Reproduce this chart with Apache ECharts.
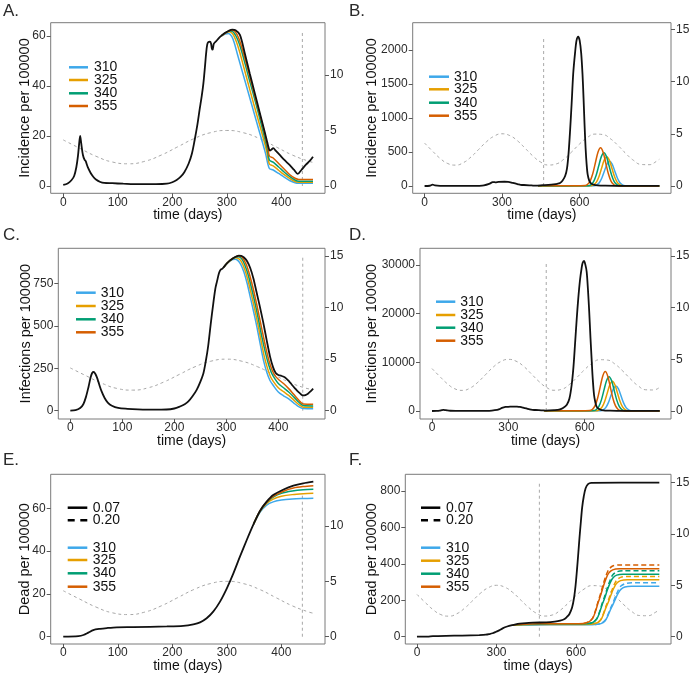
<!DOCTYPE html>
<html><head><meta charset="utf-8">
<script src="https://cdn.jsdelivr.net/npm/echarts@6/dist/echarts.min.js"></script>
<style>html,body{margin:0;padding:0;background:#fff;}#c{width:692px;height:677px;}</style>
</head><body><div id="c"></div>
<script>
// ---------- DATA ----------
const groups = ['310','325','340','355'];
const caseLabels = ['0.07','0.20'];
const shortTicks = [0,100,200,300,400];
const longTicks = [0,300,600];
const rightTicks10 = [0,5,10];
const rightTicks15 = [0,5,10,15];
const ticksA = [0,20,40,60];
const ticksB = [0,500,1000,1500,2000];
const ticksC = [0,250,500,750];
const ticksD = [0,10000,20000,30000];
const ticksE = [0,20,40,60];
const ticksF = [0,200,400,600,800];

// seasonal forcing (right axis)
const seasonDaysA = [0,30,60,90,120,150,180,210,240,270,300,330,360,390,420,450,458];
const seasonValsA = [4.15,3.40,2.68,2.16,2.00,2.23,2.79,3.53,4.27,4.80,5.00,4.80,4.27,3.53,2.79,2.23,2.13];
const seasonDaysC = [0,30,60,90,120,150,180,210,240,270,300,330,360,390,420,450,467];
const seasonValsC = [4.15,3.40,2.68,2.16,2.00,2.23,2.79,3.53,4.27,4.80,5.00,4.80,4.27,3.53,2.79,2.23,2.05];
const seasonDaysLong = [0,30,60,90,120,150,180,210,240,270,300,330,360,390,420,450,480,510,540,570,600,630,660,690,720,750,780,810,840,870,900,914];
const seasonValsLong = [4.11,3.36,2.65,2.15,2.00,2.23,2.78,3.51,4.24,4.78,5.00,4.83,4.33,3.61,2.87,2.29,2.01,2.11,2.57,3.26,4.01,4.63,4.97,4.93,4.53,3.87,3.11,2.45,2.06,2.04,2.38,2.65];

// vertical marker (A..F)
const markDay = [438.5, 461.4, 447, 449, 438.5, 461.6];
const markTop = [62.4, 2196, 915, 30800, 66, 846];

// Panel A: incidence
const aBlack = [[0,0.4],[8,1],[15,2.3],[20,4],[24,7.5],[27,12],[29,16.5],[31,20],[33,17],[36,12.5],[39,10.5],[41,10],[45,7.5],[50,5.3],[55,3.7],[60,2.6],[68,1.6],[75,1.2],[90,1.1],[110,0.9],[140,0.7],[170,0.7],[190,0.9],[200,1.5],[208,2.4],[215,3.6],[222,5.5],[230,9],[236,13],[241,18.4],[246,24.5],[250,30.4],[254,36],[257,41],[260,48],[262,53],[264,56.5],[266,57.5],[269,57.7],[271,57],[272.5,55],[274,54.5],[276,56.8],[280,57.8],[287,59.5],[295,61],[303,62],[310,62.5],[316,62.3],[324,60.4],[333,53],[342,45],[351,37.3],[360,29.6],[369,22],[377,15],[379,14.1],[382,14.6],[385,15.1],[390,14],[397,12.4],[405,10.5],[415,8.4],[423,6.5],[430,4.8],[437,6.5],[445,8.5],[452,10],[458,11.7]];
const aC310 = [[290,60],[297,60.8],[303,61],[309,59.8],[314,57],[319,53],[332,43],[345,33],[358,23],[371,13],[377.7,7.1],[385,6.4],[395,5],[404,3.7],[415,2.2],[425,1.3],[432,1.1],[458,1.1]];
const aC325 = [[290,60],[298,61.2],[305,61.7],[311,60.8],[317,58],[323,54],[336,43.5],[349,33],[362,23],[373,14],[378,8.8],[385,8],[395,6.3],[404,4.7],[415,3],[425,1.8],[432,1.5],[458,1.5]];
const aC340 = [[290,60],[300,61.6],[307,62],[313,61.3],[320,58.5],[327,54],[340,43.5],[352,34],[364,24],[374,15],[378,10.4],[385,9.5],[395,7.6],[405,5.6],[415,3.8],[425,2.4],[432,1.9],[458,1.9]];
const aC355 = [[290,60],[302,61.8],[309,62.3],[315,61.8],[322,59],[330,53.5],[343,43],[355,33],[366,24],[375,15.5],[378,12],[385,11.2],[395,9],[405,6.8],[415,4.6],[425,3.1],[432,2.6],[458,2.6]];

// Panel B: incidence, long run
const bBlack = [[0,0.4],[20,4],[31,20],[40,10],[60,2.6],[90,1.1],[190,0.9],[210,2.6],[230,9],[250,30.4],[264,56.5],[269,57.7],[274,54.5],[287,59.5],[310,62.5],[324,60.4],[342,45],[360,29.6],[377,15],[385,15.1],[415,8.4],[430,4.8],[458,11.7],[480,17],[500,24],[515,33],[525,45],[535,80],[545,150],[552,260],[558,480],[564,820],[570,1216],[576,1650],[583,1951],[589,2140],[595.5,2196],[601,2140],[607,1951],[612,1650],[616,1300],[620,900],[624,560],[628,320],[632,170],[638,80],[645,40],[655,20],[670,10],[700,5],[750,3],[800,2],[910,1]];
const bC310 = [[440,1],[520,1],[600,1.5],[657,4],[667,16],[677,49],[687,118],[697,221],[707,322],[717,365],[727,322],[737,221],[747,118],[757,49],[767,16],[777,4],[792,0.3],[910,0.2]];
const bC325 = [[440,1.5],[520,1.5],[590,2],[646,5],[656,19],[666,58],[676,140],[686,261],[696,380],[706,431],[716,380],[726,261],[736,140],[746,58],[756,19],[766,5],[781,0.4],[910,0.2]];
const bC340 = [[440,1.9],[520,2],[580,2.5],[635,5],[645,21],[655,66],[665,159],[675,297],[685,432],[695,490],[705,432],[715,297],[725,159],[735,66],[745,21],[755,5],[770,0.4],[910,0.2]];
const bC355 = [[440,2.6],[520,2.6],[570,3],[622,6],[632,25],[642,76],[652,183],[662,342],[672,498],[682,564],[692,498],[702,342],[712,183],[722,76],[732,25],[742,6],[757,0.5],[910,0.2]];

// Panel C: infections
const cBlack = [[0,0],[10,3],[19,16],[25,38],[30,80],[35,140],[39,195],[42,222],[45,228],[48,218],[51,198],[55,160],[60,115],[66,75],[72,48],[80,29],[92,16],[110,11],[130,8],[160,6],[185,7],[200,13],[211,25],[220,38],[227,55],[235,85],[243,123],[250,170],[256,221],[261,300],[265,378],[270,510],[275,632],[279,720],[282,760],[286,810],[289,830],[292,835],[295,845],[301,867],[307,885],[313,898],[319,908],[324,913],[329,912],[334,902],[340,880],[346,840],[352,780],[358,700],[364,620],[371,520],[378,410],[384,320],[390,255],[395,222],[400,210],[405,206],[413,196],[420,175],[426,153],[432,132],[438,112],[444,96],[448,90],[452,92],[457,100],[462,114],[467,130]];
const cC310 = [[295,845],[301,865],[307,880],[312,890],[317,892],[322,885],[328,860],[334,815],[340,750],[346,670],[352,590],[359,490],[366,380],[372,290],[378,225],[384,178],[390,150],[400,110],[410,88],[420,70],[430,45],[440,22],[448,13],[467,12]];
const cC325 = [[295,845],[301,866],[307,882],[313,895],[318,900],[323,897],[329,878],[335,835],[341,775],[347,700],[353,620],[360,520],[367,410],[373,320],[379,252],[385,200],[391,170],[400,135],[410,112],[420,90],[430,62],[440,35],[448,21],[467,20]];
const cC340 = [[295,845],[301,867],[307,884],[313,897],[319,905],[324,906],[330,892],[336,855],[342,800],[348,728],[354,650],[361,550],[368,440],[375,345],[381,275],[387,222],[393,190],[400,160],[410,135],[420,110],[430,80],[440,48],[448,30],[467,28]];
const cC355 = [[295,845],[301,867],[307,884],[313,898],[319,907],[325,910],[331,900],[337,870],[343,820],[349,752],[355,675],[362,575],[369,470],[376,370],[382,295],[388,240],[394,205],[400,185],[410,160],[420,130],[430,95],[440,60],[448,39],[467,38]];

// Panel D: infections, long run
const dBlack = [[0,0],[19,16],[30,80],[39,195],[45,228],[51,198],[60,115],[72,48],[92,16],[130,8],[185,7],[211,25],[235,85],[256,221],[265,378],[275,632],[282,760],[289,830],[295,845],[307,885],[324,913],[334,902],[346,840],[358,700],[371,520],[384,320],[395,222],[405,206],[420,175],[438,112],[448,90],[460,110],[480,170],[500,300],[515,600],[530,1300],[540,2500],[549,5340],[556,9000],[562,13550],[569,19000],[575,23140],[582,27000],[588,29300],[592,30400],[597.5,30800],[603,30000],[608,28600],[613,25000],[618,20390],[623,15000],[628,10130],[632,6500],[637,3290],[642,1800],[647,900],[655,450],[667,200],[700,60],[750,20],[800,10],[895,5]];
const dC310 = [[440,12],[520,12],[600,20],[663,57],[673,226],[683,697],[693,1672],[703,3124],[713,4545],[723,5150],[733,4545],[743,3124],[753,1672],[763,697],[773,226],[783,57],[798,5],[895,3]];
const dC325 = [[440,20],[520,20],[590,25],[649,68],[659,268],[669,825],[679,1981],[689,3700],[699,5383],[709,6100],[719,5383],[729,3700],[739,1981],[749,825],[759,268],[769,68],[784,5],[895,3]];
const dC340 = [[440,28],[520,28],[580,32],[636,78],[646,310],[656,954],[666,2289],[676,4276],[686,6222],[696,7050],[706,6222],[716,4276],[726,2289],[736,954],[746,310],[756,78],[771,6],[895,3]];
const dC355 = [[440,38],[520,38],[570,42],[621,90],[631,356],[641,1096],[651,2630],[661,4913],[671,7148],[681,8100],[691,7148],[701,4913],[711,2630],[721,1096],[731,356],[741,90],[756,7],[895,3]];

// Panel E: cumulative dead
const eBlack = [[0,0],[28,0.3],[37,0.8],[46,1.9],[55,3.1],[67.5,3.7],[80,4.05],[98,4.4],[128.6,4.5],[190,4.8],[220,5.1],[238.6,5.8],[250.9,6.7],[263,8.6],[275,11.7],[287.5,16.4],[300,22.6],[312,29.6],[324,37.4],[336.5,45.2],[349,52.6],[361,58.9],[373,63.1],[385,66.2],[404,68.8],[422,70.6],[440,71.7],[458.6,72.5]];
const eC310 = [[349,52.6],[361,58.2],[373,61.5],[385,63],[400,63.9],[420,64.4],[440,64.6],[458.6,64.7]];
const eC325 = [[349,52.6],[361,58.6],[373,62.3],[385,64.3],[400,65.6],[420,66.4],[440,66.8],[458.6,67]];
const eC340 = [[349,52.6],[361,58.8],[373,62.7],[385,65.2],[400,67],[420,68.1],[440,68.7],[458.6,68.9]];
const eC355 = [[349,52.6],[361,58.9],[373,62.9],[385,65.6],[404,68],[422,69.5],[440,70.2],[458.6,70.6]];

// Panel F: cumulative dead, long run (solid = 0.07, dashed = 0.20)
const fBlack = [[0,0],[40,0.8],[60,3],[110,5],[170,6.5],[235,9],[260,11],[273,14.6],[285,19],[298,27],[310,35],[323,46],[340,56],[361,64],[380,70],[399,73],[437,77],[487,79],[520,83],[540,88],[555,96],[565,108],[575,125],[585,160],[592,210],[598,280],[603,360],[608,450],[613,545],[618,630],[623,710],[629,770],[636,815],[645,838],[657,845],[914,846]];
const fC310 = [[361,63],[400,64.3],[458,64.8],[550,65.3],[640,65.8],[671,67],[694,72],[709,87],[719,112],[729,146],[739,176],[749,209],[759,239],[769,260],[784,273],[809,277],[914,277]];
const fC325 = [[361,63.5],[400,65.5],[458,67],[550,67.3],[626,67.6],[656,68.5],[678,75],[693,92],[703,122],[713,161],[723,195],[733,235],[743,269],[753,293],[768,308],[793,313],[914,313]];
const fC340 = [[361,63.8],[400,67],[458,68.9],[550,69.3],[616,69.6],[641,70.5],[663,78],[678,97],[688,130],[698,174],[708,212],[718,256],[728,294],[738,321],[753,338],[778,343],[914,343]];
const fC355 = [[361,64],[400,68],[458,70.6],[550,71],[606,71.4],[628,72.5],[648,81],[663,102],[673,138],[683,186],[693,229],[703,277],[713,319],[723,349],[738,367],[763,373],[914,373]];
const fC310d = [[671,67],[694,73],[709,89],[719,117],[729,153],[739,186],[749,222],[759,255],[769,278],[784,291],[809,296],[914,296]];
const fC325d = [[656,68.5],[678,76],[693,94],[703,126],[713,168],[723,205],[733,247],[743,284],[753,310],[768,326],[793,331],[914,331]];
const fC340d = [[641,70.5],[663,79],[678,99],[688,134],[698,181],[708,222],[718,269],[728,309],[738,339],[753,356],[778,362],[914,362]];
const fC355d = [[628,72.5],[648,82],[663,104],[673,143],[683,194],[693,239],[703,291],[713,336],[723,368],[738,388],[763,394],[914,394]];

// ---------- CHART ----------
const FONT = '"Liberation Sans", Arial, sans-serif';
const colors = ['#3EA8EA','#E69F00','#009E73','#D55E00'];
const zip = (xs, ys) => xs.map((x, i) => [x, ys[i]]);

const P = [
 {box:[50.7,22.7,274.3,170.6], x:[-23,480], yl:[-2.93,65.3], yr:[-0.66,14.71], xt:shortTicks, ylt:ticksA, yrt:rightTicks10,
  title:'Incidence per 100000', tx:25, letter:'A.', lx:3, ly:11, black:aBlack, cols:[aC310,aC325,aC340,aC355], dashed:null,
  sd:seasonDaysA, sv:seasonValsA, leg:{x1:69, x2:88, tx:94, ys:[67.3,80,93.3,106]}},
 {box:[412.7,22.7,258.3,170.6], x:[-46,955], yl:[-107,2401], yr:[-0.70,15.64], xt:longTicks, ylt:ticksB, yrt:rightTicks15,
  title:'Incidence per 100000', tx:372, letter:'B.', lx:349, ly:11, black:bBlack, cols:[bC310,bC325,bC340,bC355], dashed:null,
  sd:seasonDaysLong.slice(0,31).concat([910]), sv:seasonValsLong.slice(0,31).concat([2.57]), leg:{x1:429, x2:449, tx:454, ys:[76.7,89.3,102.7,115.7]}},
 {box:[58.3,248.3,266.7,170.7], x:[-23.1,489.8], yl:[-48.8,956], yr:[-0.80,15.75], xt:shortTicks, ylt:ticksC, yrt:rightTicks15,
  title:'Infections per 100000', tx:26, letter:'C.', lx:3, ly:235, black:cBlack, cols:[cC310,cC325,cC340,cC355], dashed:null,
  sd:seasonDaysC, sv:seasonValsC, leg:{x1:76, x2:95.7, tx:100.7, ys:[292.7,306,319.3,332.3]}},
 {box:[420,248.3,251,170.7], x:[-47.2,939.5], yl:[-1643,33409], yr:[-0.77,15.75], xt:longTicks, ylt:ticksD, yrt:rightTicks15,
  title:'Infections per 100000', tx:372, letter:'D.', lx:349, ly:235, black:dBlack, cols:[dC310,dC325,dC340,dC355], dashed:null,
  sd:seasonDaysLong.slice(0,30).concat([895]), sv:seasonValsLong.slice(0,30).concat([2.30]), leg:{x1:436, x2:455.3, tx:460.3, ys:[301.7,315,327.7,340.7]}},
 {box:[50.7,474.3,274.3,169.7], x:[-23,480], yl:[-3.4,75.9], yr:[-0.66,14.67], xt:shortTicks, ylt:ticksE, yrt:rightTicks10,
  title:'Dead per 100000', tx:25, letter:'E.', lx:3, ly:460, black:eBlack, cols:[eC310,eC325,eC340,eC355], dashed:null,
  sd:seasonDaysA, sv:seasonValsA, leg:{x1:67.7, x2:87.3, tx:92.7, ys:[547.7,560,573.3,586.7], cy:[507.7,520.3]}},
 {box:[405.3,474.3,265.7,169.7], x:[-44,958], yl:[-40,891.8], yr:[-0.71,15.8], xt:longTicks, ylt:ticksF, yrt:rightTicks15,
  title:'Dead per 100000', tx:372, letter:'F.', lx:349, ly:460, black:fBlack, cols:[fC310,fC325,fC340,fC355], dashed:[fC310d,fC325d,fC340d,fC355d],
  sd:seasonDaysLong, sv:seasonValsLong, leg:{x1:421, x2:440.3, tx:446, ys:[547.7,560.7,573.7,586.7], cy:[507.7,520.3]}}
];

const option = {animation:false, backgroundColor:'#ffffff', textStyle:{fontFamily:FONT},
  grid:[], xAxis:[], yAxis:[], series:[], graphic:[]};

const tickStyle = {color:'#5a5a5a', width:1};
const plain = v => String(v);
const labelBase = {fontSize:12, color:'#2b2b2b', fontFamily:FONT, formatter:plain};

P.forEach((p, i) => {
  option.grid.push({left:p.box[0], top:p.box[1], width:p.box[2], height:p.box[3], show:true,
    borderColor:'#7a7a7a', borderWidth:1, backgroundColor:'rgba(0,0,0,0)', containLabel:false, outerBoundsMode:'none'});
  option.xAxis.push({type:'value', gridIndex:i, min:p.x[0], max:p.x[1], position:'bottom',
    axisLine:{show:false, onZero:false}, splitLine:{show:false},
    axisTick:{show:true, length:4, customValues:p.xt, lineStyle:tickStyle},
    axisLabel:Object.assign({customValues:p.xt, margin:3}, labelBase)});
  option.yAxis.push({type:'value', gridIndex:i, min:p.yl[0], max:p.yl[1], position:'left',
    axisLine:{show:false, onZero:false}, splitLine:{show:false},
    axisTick:{show:true, length:4, customValues:p.ylt, lineStyle:tickStyle},
    axisLabel:Object.assign({customValues:p.ylt, margin:5}, labelBase)});
  option.yAxis.push({type:'value', gridIndex:i, min:p.yr[0], max:p.yr[1], position:'right',
    axisLine:{show:false, onZero:false}, splitLine:{show:false},
    axisTick:{show:true, length:4, customValues:p.yrt, lineStyle:tickStyle},
    axisLabel:Object.assign({customValues:p.yrt, margin:5}, labelBase)});

  // seasonal forcing
  option.series.push({type:'line', xAxisIndex:i, yAxisIndex:2*i+1, data:zip(p.sd, p.sv), symbol:'none', smooth:true,
    lineStyle:{color:'#a8a8a8', width:1, type:[3,3]}, silent:true, z:1});
  // vertical marker
  option.series.push({type:'line', xAxisIndex:i, yAxisIndex:2*i, data:[[markDay[i],0],[markDay[i],markTop[i]]], symbol:'none',
    lineStyle:{color:'#a8a8a8', width:1, type:[3,3]}, silent:true, z:1});
  // dashed variants (0.20)
  if (p.dashed) p.dashed.forEach((d, k) => option.series.push({type:'line', xAxisIndex:i, yAxisIndex:2*i, data:d, symbol:'none', smooth:0.3,
    lineStyle:{color:colors[k], width:1.5, type:[5,3]}, silent:true, z:2}));
  p.cols.forEach((d, k) => option.series.push({type:'line', xAxisIndex:i, yAxisIndex:2*i, data:d, symbol:'none', smooth:0.3,
    lineStyle:{color:colors[k], width:1.5}, silent:true, z:2}));
  option.series.push({type:'line', xAxisIndex:i, yAxisIndex:2*i, data:p.black, symbol:'none', smooth:0.3,
    lineStyle:{color:'#111', width:1.8}, silent:true, z:3});

  // texts
  const cx = p.box[0] + p.box[2] / 2, cy = p.box[1] + p.box[3] / 2, by = p.box[1] + p.box[3];
  option.graphic.push({type:'text', x:p.lx, y:p.ly, style:{text:p.letter, font:'17px ' + FONT, fill:'#2a2a2a', align:'left', verticalAlign:'middle'}});
  option.graphic.push({type:'text', x:cx, y:by + 22, style:{text:'time (days)', font:'14px ' + FONT, fill:'#111', align:'center', verticalAlign:'middle'}});
  option.graphic.push({type:'text', x:p.tx, y:cy, rotation:Math.PI/2, style:{text:p.title, font:'14.5px ' + FONT, fill:'#111', align:'center', verticalAlign:'middle'}});
  // legend
  const L = p.leg;
  if (L.cy) {
    caseLabels.forEach((lab, k) => {
      option.graphic.push({type:'line', shape:{x1:L.x1, y1:L.cy[k], x2:L.x2, y2:L.cy[k]},
        style:{stroke:'#000', lineWidth:2.5, lineDash: k === 1 ? [7,5.6] : null}});
      option.graphic.push({type:'text', x:L.tx, y:L.cy[k], style:{text:lab, font:'14px ' + FONT, fill:'#111', align:'left', verticalAlign:'middle'}});
    });
  }
  groups.forEach((g, k) => {
    option.graphic.push({type:'line', shape:{x1:L.x1, y1:L.ys[k], x2:L.x2, y2:L.ys[k]}, style:{stroke:colors[k], lineWidth:2.5}});
    option.graphic.push({type:'text', x:L.tx, y:L.ys[k], style:{text:g, font:'14px ' + FONT, fill:'#111', align:'left', verticalAlign:'middle'}});
  });
});

const chart = echarts.init(document.getElementById('c'), null, {renderer:'canvas'});
chart.setOption(option);
</script></body></html>
